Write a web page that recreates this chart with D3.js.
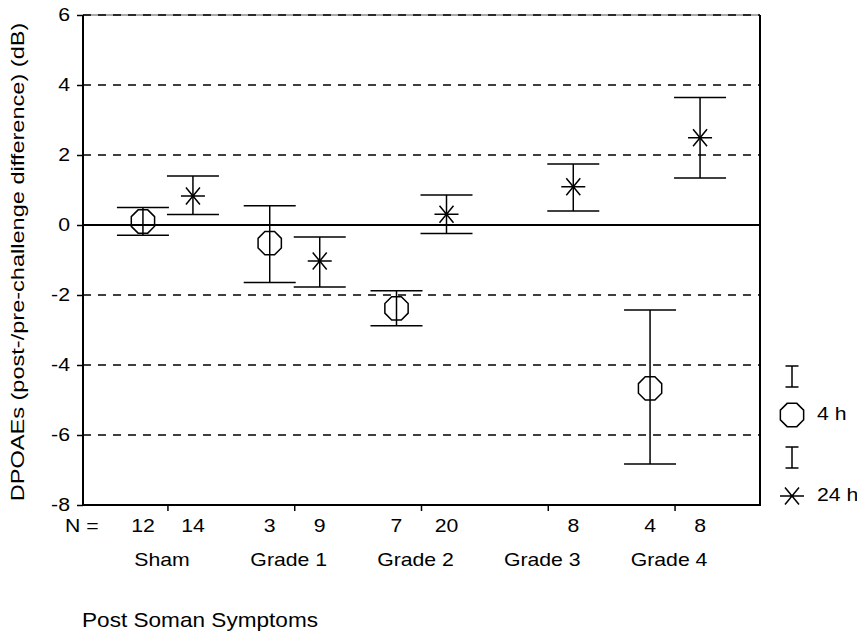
<!DOCTYPE html>
<html>
<head>
<meta charset="utf-8">
<script src="https://cdn.jsdelivr.net/npm/d3@7"></script>
<style>
  body { margin: 0; background: #fff; }
  svg text { font-family: Arial, "Liberation Sans", sans-serif; fill: #000; }
</style>
</head>
<body>
<div class="chart"></div>
<script>
// values (dB)
const categories = ["Sham", "Grade 1", "Grade 2", "Grade 3", "Grade 4"];
const seriesNames = ["4 h", "24 h"];

const mean4h = [0.10, -0.52, -2.38, null, -4.67];
const low4h = [-0.29, -1.64, -2.88, null, -6.83];
const high4h = [0.50, 0.55, -1.88, null, -2.43];
const n4h = [12, 3, 7, null, 4];

const mean24h = [0.83, -1.03, 0.31, 1.09, 2.49];
const low24h = [0.30, -1.77, -0.24, 0.40, 1.34];
const high24h = [1.40, -0.34, 0.86, 1.74, 3.64];
const n24h = [14, 9, 20, 8, 8];

const yTicks = [-8, -6, -4, -2, 0, 2, 4, 6];

const width = 857, height = 635;
const plotLeft = 83, plotRight = 760, plotTop = 15, plotBottom = 505;
const sx = 1.18; // text in the picture is wider than Arial

const svg = d3.select(".chart").append("svg")
    .attr("width", width)
    .attr("height", height);

const x = d3.scalePoint()
    .domain(categories)
    .range([plotLeft, plotRight])
    .padding(0.67);

const xSub = d3.scalePoint()
    .domain(seriesNames)
    .range([-25, 25]);

const y = d3.scaleLinear()
    .domain([-8, 6])
    .range([plotBottom, plotTop]);

// grid lines
svg.append("line")
    .attr("x1", plotLeft).attr("x2", plotRight)
    .attr("y1", y(6)).attr("y2", y(6))
    .attr("stroke", "#555").attr("stroke-width", 1);

svg.append("g").selectAll("line")
    .data(yTicks.filter(d => d !== 0 && d !== -8))
    .enter().append("line")
    .attr("x1", plotLeft).attr("x2", plotRight)
    .attr("y1", d => y(d)).attr("y2", d => y(d))
    .attr("stroke", "#000")
    .attr("stroke-width", 1.6)
    .attr("stroke-dasharray", "8,7");

svg.append("line")
    .attr("x1", plotLeft).attr("x2", plotRight)
    .attr("y1", y(0)).attr("y2", y(0))
    .attr("stroke", "#000").attr("stroke-width", 2);

// right frame and bottom axis
svg.append("line")
    .attr("x1", plotRight).attr("x2", plotRight)
    .attr("y1", plotTop).attr("y2", plotBottom)
    .attr("stroke", "#000").attr("stroke-width", 2);

svg.append("line")
    .attr("x1", plotLeft - 1).attr("x2", plotRight + 1)
    .attr("y1", plotBottom).attr("y2", plotBottom)
    .attr("stroke", "#000").attr("stroke-width", 2);

svg.append("g").selectAll("line")
    .data(categories)
    .enter().append("line")
    .attr("x1", d => x(d)).attr("x2", d => x(d))
    .attr("y1", plotBottom).attr("y2", plotBottom + 6)
    .attr("stroke", "#000").attr("stroke-width", 1.5);

// y axis
const yAxis = svg.append("g")
    .attr("transform", "translate(" + plotLeft + ",0)")
    .call(d3.axisLeft(y).tickValues(yTicks).tickSize(6).tickFormat(d => String(d)));

yAxis.select(".domain").attr("stroke-width", 2).attr("d", "M0," + plotTop + "V" + plotBottom);
yAxis.selectAll(".tick line").attr("stroke-width", 1.5);
yAxis.selectAll(".tick text")
    .attr("x", null)
    .attr("transform", "translate(-13,0) scale(" + sx + ",1)")
    .style("font-size", "18px")
    .style("font-family", "Arial, 'Liberation Sans', sans-serif");

svg.append("text")
    .attr("transform", "translate(24,262) rotate(-90) scale(1.24,1)")
    .attr("text-anchor", "middle")
    .style("font-size", "19px")
    .text("DPOAEs (post-/pre-challenge difference) (dB)");

// error bars and markers
const series = [
    { name: "4 h", mean: mean4h, low: low4h, high: high4h, n: n4h, shape: "octagon" },
    { name: "24 h", mean: mean24h, low: low24h, high: high24h, n: n24h, shape: "star" }
];

const capW = 26;
const octR = 12.6;

function octagonPath(r) {
    const pts = d3.range(8).map(i => {
        const a = Math.PI / 8 + i * Math.PI / 4;
        return [r * Math.cos(a), r * Math.sin(a)];
    });
    return "M" + pts.join("L") + "Z";
}

function starPath() {
    return "M-12,0H12M-7,-8.5L7,8.5M-7,8.5L7,-8.5";
}

series.forEach(s => {
    const rows = categories.map((c, i) => ({
        cat: c, mean: s.mean[i], low: s.low[i], high: s.high[i], n: s.n[i]
    })).filter(d => d.mean !== null);

    const g = svg.append("g")
        .attr("class", "series")
        .attr("stroke", "#000")
        .attr("stroke-width", 1.5)
        .attr("fill", "none");

    const bar = g.selectAll("g")
        .data(rows)
        .enter().append("g")
        .attr("transform", d => "translate(" + (x(d.cat) + xSub(s.name)) + ",0)");

    bar.append("line")
        .attr("y1", d => y(d.low)).attr("y2", d => y(d.high));
    bar.append("line")
        .attr("x1", -capW).attr("x2", capW)
        .attr("y1", d => y(d.high)).attr("y2", d => y(d.high));
    bar.append("line")
        .attr("x1", -capW).attr("x2", capW)
        .attr("y1", d => y(d.low)).attr("y2", d => y(d.low));
    bar.append("path")
        .attr("transform", d => "translate(0," + y(d.mean) + ")")
        .attr("d", s.shape === "octagon" ? octagonPath(octR) : starPath());

    // N labels
    svg.append("g").selectAll("text")
        .data(rows)
        .enter().append("text")
        .attr("transform", d => "translate(" + (x(d.cat) + xSub(s.name)) + ",532) scale(" + sx + ",1)")
        .attr("text-anchor", "middle")
        .style("font-size", "18px")
        .text(d => d.n);
});

svg.append("text")
    .attr("transform", "translate(65,532) scale(" + sx + ",1)")
    .style("font-size", "18px")
    .text("N =");

svg.append("g").selectAll("text")
    .data(categories)
    .enter().append("text")
    .attr("transform", d => "translate(" + (x(d) - 6) + ",566) scale(" + sx + ",1)")
    .attr("text-anchor", "middle")
    .style("font-size", "18px")
    .text(d => d);

svg.append("text")
    .attr("transform", "translate(82,627) scale(1.13,1)")
    .style("font-size", "20px")
    .text("Post Soman Symptoms");

// legend
const legendY = d3.scalePoint().domain(seriesNames).range([415, 496]);
const legend = svg.append("g")
    .attr("transform", "translate(792,0)");

series.forEach(s => {
    const cy = legendY(s.name);
    const lg = legend.append("g")
        .attr("stroke", "#000")
        .attr("stroke-width", 1.5)
        .attr("fill", "none");
    lg.append("path")
        .attr("d", "M0," + (cy - 49) + "V" + (cy - 28) +
            "M-6.5," + (cy - 49) + "H6.5M-6.5," + (cy - 28) + "H6.5");
    lg.append("path")
        .attr("transform", "translate(0," + cy + ")")
        .attr("d", s.shape === "octagon" ? octagonPath(octR) : starPath());
    legend.append("text")
        .attr("transform", "translate(25," + (cy + 5) + ") scale(" + sx + ",1)")
        .style("font-size", "18px")
        .text(s.name);
});
</script>
</body>
</html>
